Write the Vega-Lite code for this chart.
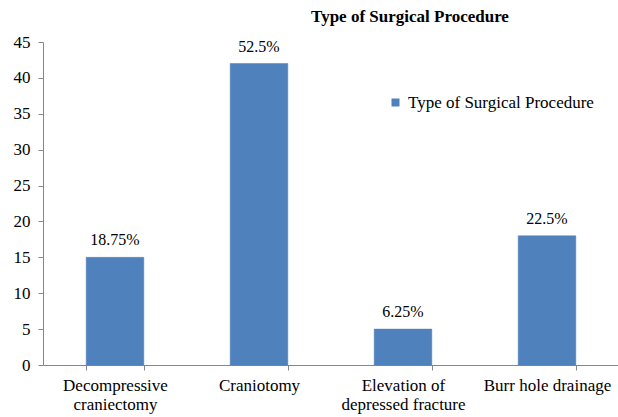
{
  "$schema": "https://vega.github.io/schema/vega-lite/v6.json",
  "width": 576,
  "height": 323,
  "autosize": "none",
  "padding": {"left": 43, "top": 42, "right": 0, "bottom": 52},
  "background": "white",
  "config": {
    "font": "Times New Roman, Liberation Serif, serif",
    "view": {"stroke": null}
  },
  "title": {
    "text": "Type of Surgical Procedure",
    "font": "Times New Roman, Liberation Serif, serif",
    "fontSize": 17,
    "fontWeight": "bold",
    "color": "#000000",
    "anchor": "middle",
    "dx": 79,
    "offset": 7
  },
  "data": {
    "values": [
      {"procedure": "Decompressive craniectomy", "count": 15, "pct": "18.75%", "series": "Type of Surgical Procedure"},
      {"procedure": "Craniotomy", "count": 42, "pct": "52.5%", "series": "Type of Surgical Procedure"},
      {"procedure": "Elevation of depressed fracture", "count": 5, "pct": "6.25%", "series": "Type of Surgical Procedure"},
      {"procedure": "Burr hole drainage", "count": 18, "pct": "22.5%", "series": "Type of Surgical Procedure"}
    ]
  },
  "encoding": {
    "x": {
      "field": "procedure",
      "type": "nominal",
      "sort": null,
      "scale": {"paddingInner": 0.6, "paddingOuter": 0.3},
      "axis": {
        "title": null,
        "labelAngle": 0,
        "tickBand": "extent",
        "tickSize": 5,
        "tickColor": "#868686",
        "domainColor": "#868686",
        "labelFont": "Times New Roman, Liberation Serif, serif",
        "labelFontSize": 17,
        "labelColor": "#000000",
        "labelPadding": 7,
        "labelLineHeight": 19.5,
        "labelLimit": 200,
        "labelExpr": "datum.label == 'Decompressive craniectomy' ? ['Decompressive', 'craniectomy'] : datum.label == 'Elevation of depressed fracture' ? ['Elevation of', 'depressed fracture'] : datum.label"
      }
    },
    "y": {
      "field": "count",
      "type": "quantitative",
      "scale": {"domain": [0, 45]},
      "axis": {
        "title": null,
        "values": [0, 5, 10, 15, 20, 25, 30, 35, 40, 45],
        "grid": false,
        "tickSize": 5,
        "tickColor": "#868686",
        "domainColor": "#868686",
        "labelFont": "Times New Roman, Liberation Serif, serif",
        "labelFontSize": 17,
        "labelColor": "#000000",
        "labelPadding": 8
      }
    }
  },
  "layer": [
    {
      "mark": {"type": "bar", "stroke": "#4A7EBB", "strokeWidth": 0.5},
      "encoding": {
        "color": {
          "field": "series",
          "type": "nominal",
          "scale": {"range": ["#4F81BD"]},
          "legend": {
            "title": null,
            "orient": "none",
            "legendX": 344,
            "legendY": 52,
            "symbolType": "square",
            "symbolSize": 64,
            "symbolStrokeWidth": 0,
            "labelFont": "Times New Roman, Liberation Serif, serif",
            "labelFontSize": 17,
            "labelColor": "#000000",
            "labelOffset": 4,
            "labelLimit": 300
          }
        }
      }
    },
    {
      "mark": {"type": "text", "baseline": "bottom", "dy": -9, "font": "Times New Roman, Liberation Serif, serif", "fontSize": 16, "color": "#000000"},
      "encoding": {"text": {"field": "pct"}}
    }
  ]
}
